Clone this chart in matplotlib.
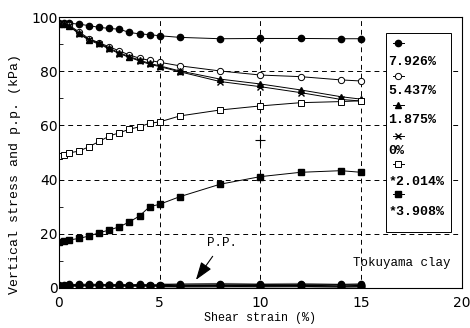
import matplotlib
matplotlib.use("Agg")
import matplotlib.pyplot as plt
from matplotlib.ticker import MultipleLocator
from matplotlib.patches import Rectangle

# Shear strain (%) sampling of the tests
strain = [0, 0.25, 0.5, 1, 1.5, 2, 2.5, 3, 3.5, 4, 4.5, 5, 6, 8, 10, 12, 14, 15]

# Vertical stress (kPa)
vs_7926 = [97.8, 97.8, 97.7, 97.4, 96.8, 96.2, 95.8, 95.5, 94.3, 93.8, 93.5, 93.1, 92.5, 92.0, 92.1, 92.1, 92.0, 92.0]
vs_5437 = [97.5, 97.4, 97.0, 94.5, 92.0, 90.5, 89.0, 87.5, 86.0, 84.8, 84.0, 83.3, 82.0, 80.1, 78.6, 78.0, 76.8, 76.4]
vs_1875 = [97.6, 97.4, 96.8, 94.0, 91.7, 90.3, 88.5, 86.8, 85.4, 84.1, 82.9, 82.0, 80.1, 77.1, 75.3, 73.1, 70.6, 69.7]
vs_0 = [97.6, 97.3, 96.6, 93.8, 91.4, 90.0, 88.2, 86.5, 85.1, 83.8, 82.6, 81.7, 79.8, 76.2, 74.3, 72.1, 69.6, 69.0]
vs_2014 = [48.8, 49.0, 49.9, 50.5, 52.2, 54.1, 56.1, 57.3, 58.6, 59.5, 60.8, 61.3, 63.5, 65.7, 67.2, 68.4, 68.8, 69.1]
vs_3908 = [17.1, 17.2, 17.7, 18.3, 19.2, 20.4, 21.4, 22.6, 24.4, 26.6, 30.0, 30.9, 33.7, 38.3, 41.1, 42.7, 43.3, 42.7]

# Pore pressure (kPa)
pp_a = [0.8, 0.9, 0.9, 1.0, 1.0, 1.1, 1.0, 0.9, 0.9, 0.9, 0.9, 0.9, 0.8, 1.0, 0.9, 1.0, 0.7, 0.9]
pp_b = [0.5, 0.6, 0.6, 0.7, 0.7, 0.8, 0.7, 0.6, 0.7, 0.6, 0.7, 0.6, 0.5, 0.5, 0.6, 0.6, 0.4, 0.5]
pp_c = [1.2, 1.2, 1.3, 1.3, 1.4, 1.3, 1.2, 1.3, 1.2, 1.3, 1.2, 1.2, 1.4, 1.5, 1.3, 1.4, 1.3, 1.4]

labels = ["7.926%", "5.437%", "1.875%", "0%", "*2.014%", "*3.908%"]

mono = ["Liberation Mono", "DejaVu Sans Mono"]
narrow = ["Liberation Sans Narrow", "DejaVu Sans"]

fig = plt.figure(figsize=(4.7, 3.28), dpi=100)
ax = fig.add_axes([0.1255, 0.122, 0.857, 0.826])

lw = 0.7
styles = [
    (vs_7926, dict(marker="o", mfc="black", mec="black", ms=4.5)),
    (vs_5437, dict(marker="o", mfc="white", mec="black", ms=4.5, mew=0.7)),
    (vs_1875, dict(marker="^", mfc="black", mec="black", ms=5)),
    (vs_0, dict(marker="x", mec="black", ms=5, mew=1.0)),
    (vs_2014, dict(marker="s", mfc="white", mec="black", ms=4.5, mew=0.7)),
    (vs_3908, dict(marker="s", mfc="black", mec="black", ms=4.5)),
]
for ys, st in styles:
    ax.plot(strain, ys, color="black", lw=lw, **st)

# pore pressure band
ax.plot(strain[11:], pp_a[11:], color="0.6", lw=3.5, zorder=1)
ax.plot(strain, pp_b, color="black", lw=lw, marker="s", ms=4.5, mfc="black", mec="black")
ax.plot(strain, pp_c, color="black", lw=lw, marker="o", ms=4.5, mfc="black", mec="black")
ax.plot(strain, pp_a, color="black", lw=1.0, marker="o", ms=5, mfc="black", mec="black")

# stray mark near 10 %
ax.plot([10], [54.5], marker="+", color="black", ms=7, mew=0.8)

ax.annotate("P.P.", xy=(6.8, 3.0), xytext=(8.1, 16.6), ha="center", va="center",
            fontsize=9, family=mono,
            arrowprops=dict(arrowstyle="-|>,head_length=1.1,head_width=0.38",
                            mutation_scale=10, color="black", lw=0.8,
                            shrinkA=4, shrinkB=0))
ax.text(14.6, 9.2, "Tokuyama clay", fontsize=9, family=mono, ha="left", va="center")

ax.set_xlim(0, 20)
ax.set_ylim(0, 100)
ax.xaxis.set_major_locator(MultipleLocator(5))
ax.yaxis.set_major_locator(MultipleLocator(20))
ax.yaxis.set_minor_locator(MultipleLocator(10))
ax.grid(True, which="major", color="black", ls=(0, (5, 4)), lw=0.7)
ax.tick_params(axis="both", which="both", direction="in", labelsize=10)
ax.tick_params(axis="x", length=0, pad=6)
ax.tick_params(axis="y", which="major", length=0, pad=1)
ax.tick_params(axis="y", which="minor", length=3)
for lab in ax.get_xticklabels() + ax.get_yticklabels():
    lab.set_family(narrow)
for sp in ax.spines.values():
    sp.set_linewidth(0.8)

ax.set_xlabel("Shear strain (%)", fontsize=8.5, family=mono, labelpad=1)
ax.set_ylabel("Vertical stress and p.p. (kPa)", fontsize=9.5, family=mono)
ax.yaxis.set_label_coords(-0.094, 0.42)

# hand-made legend: marker above its label
bx0, bx1, by0, by1 = 0.811, 0.973, 0.207, 0.941
ax.add_patch(Rectangle((bx0, by0), bx1 - bx0, by1 - by0, transform=ax.transAxes,
                       facecolor="white", edgecolor="black", lw=0.7, zorder=5))
mark_y = [0.904, 0.784, 0.677, 0.561, 0.456, 0.347]
text_y = [0.835, 0.728, 0.620, 0.506, 0.393, 0.279]
for (ys, st), lab, my, ty in zip(styles, labels, mark_y, text_y):
    ax.plot([0.829, 0.856], [my, my], transform=ax.transAxes, color="black", lw=lw,
            zorder=6, clip_on=False)
    ax.plot([0.8425], [my], transform=ax.transAxes, ls="none", zorder=7,
            clip_on=False, **st)
    ax.text(0.818, ty, lab, transform=ax.transAxes, fontsize=9.5, family=mono,
            fontweight="bold", ha="left", va="center", zorder=6)

fig.savefig("out.png", dpi=100)
